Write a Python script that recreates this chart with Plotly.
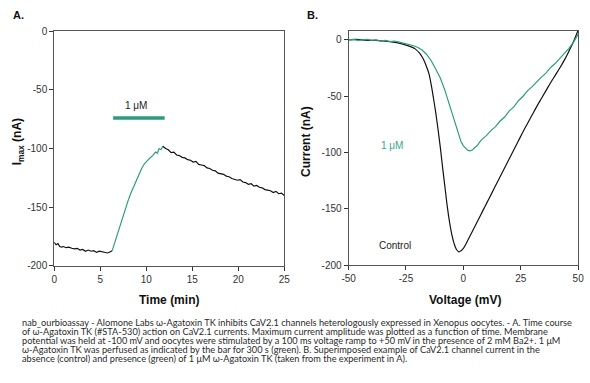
import plotly.graph_objects as go

# ---------------- Panel A data: Imax vs time ----------------
t_pre = [0, 0.2, 0.4, 0.6, 0.8, 1.0, 1.3, 1.6, 1.9, 2.2, 2.5, 2.8, 3.1, 3.4, 3.7, 4.0,
         4.3, 4.6, 4.9, 5.2, 5.5, 5.8, 6.1, 6.3]
i_pre = [-180, -182, -181, -183.5, -184, -183.5, -184.5, -184, -185, -185.5, -185, -186.5,
         -186, -187.5, -186.5, -187.5, -187, -188.5, -187.5, -188, -188.5, -189, -188, -187]

t_toxin = [6.3, 6.5, 6.8, 7.1, 7.4, 7.7, 8.0, 8.3, 8.6, 8.9, 9.2, 9.5, 9.8, 10.1, 10.4,
           10.7, 11.0, 11.2, 11.4, 11.6, 11.8]
i_toxin = [-187, -182, -174, -166, -159, -152, -145, -138.5, -133, -127, -121.5, -117, -113,
           -110, -108, -106, -103, -104, -100, -101, -98]

t_wash = [11.8, 12.1, 12.4, 12.7, 13.0, 13.3, 13.6, 13.9, 14.2, 14.5, 14.8, 15.1, 15.4, 15.7,
          16.0, 16.3, 16.6, 16.9, 17.2, 17.5, 17.8, 18.1, 18.4, 18.7, 19.0, 19.3, 19.6, 19.9,
          20.2, 20.5, 20.8, 21.1, 21.4, 21.7, 22.0, 22.3, 22.6, 22.9, 23.2, 23.5, 23.8, 24.1,
          24.4, 24.7, 25.0]
i_wash = [-98, -100, -101, -103.5, -103, -105.5, -106, -107.5, -108, -109.5, -110, -111.5,
          -111, -113.5, -114, -114.5, -116.5, -117, -118.5, -119, -121, -121.5, -122, -123.5,
          -124, -125.5, -126.5, -127, -126.5, -128.5, -129, -130.5, -130, -132, -131.5, -133,
          -133.5, -135, -135.5, -136, -137.5, -136.5, -138.5, -138, -140]

bar_t = [6.4, 12.0]
bar_i = [-74, -74]

a_xticks = [0, 5, 10, 15, 20, 25]
a_xticktext = ["0", "5", "10", "15", "20", "25"]
a_yticks = [0, -50, -100, -150, -200]
a_yticktext = ["0", "-50", "-100", "-150", "-200"]

# ---------------- Panel B data: I-V curves ----------------
v_ctrl = [-50, -47, -44, -41, -38, -35, -32, -29, -26, -23, -21, -19, -18, -17, -16, -15, -14,
          -13, -12, -11, -10, -9, -8, -7, -6, -5, -4, -3, -2, -1, 0, 1, 2, 3, 4, 5, 6, 7, 8,
          9, 10, 12, 14, 16, 18, 20, 22, 24, 26, 28, 30, 32, 34, 36, 38, 40, 42, 44, 46, 48, 50]
i_ctrl = [0, 0.5, 0, -0.5, -0.5, -1, -1.5, -2.5, -4, -6, -8, -12, -15, -19, -24, -30, -40,
          -52, -65, -80, -96, -114, -131, -148, -162, -173, -181, -186, -188, -187, -185,
          -181.5, -177.5, -173.5, -169.5, -165.5, -161.5, -157.5, -153.5, -149.5, -145.5,
          -137.5, -129.5, -121.5, -113.5, -105.5, -97.5, -89.5, -81.5, -74, -66.5, -59, -52,
          -45, -38, -31.5, -25, -18, -10, -1.5, 8.5]

v_tox = [-50, -48, -46, -44, -42, -40, -38, -36, -34, -32, -30, -28, -26, -24, -22, -20, -18,
         -16, -14, -12, -10, -8, -6, -4, -2, -1, 0, 1, 2, 3, 4, 5, 6, 7, 8, 10, 12, 14, 16,
         18, 20, 22, 24, 26, 28, 30, 32, 34, 36, 38, 40, 42, 44, 46, 48, 50]
i_tox = [0, 0.5, -0.5, 0, 0.5, -0.5, 0, -1, -0.5, -1.5, -1, -2, -3, -3.5, -5, -6.5, -9, -13,
         -18.5, -26, -34, -45, -58, -73, -86, -90.5, -94, -96.5, -98, -98.5, -97.5, -95.5,
         -94, -91, -88.5, -85, -80.5, -77, -72, -68.5, -63, -59.5, -54, -50, -45, -41.5,
         -37, -33, -29.5, -24.5, -21, -16, -12, -7.5, -2, 5]

b_xticks = [-50, -25, 0, 25, 50]
b_xticktext = ["-50", "-25", "0", "25", "50"]
b_yticks = [0, -50, -100, -150, -200]
b_yticktext = ["0", "-50", "-100", "-150", "-200"]

caption_lines = [
    "nab_ourbioassay - Alomone Labs ω-Agatoxin TK inhibits CaV2.1 channels heterologously expressed in Xenopus oocytes. - A. Time course",
    "of ω-Agatoxin TK (#STA-530) action on CaV2.1 currents. Maximum current amplitude was plotted as a function of time. Membrane",
    "potential was held at -100 mV and oocytes were stimulated by a 100 ms voltage ramp to +50 mV in the presence of 2 mM Ba2+. 1 μM",
    "ω-Agatoxin TK was perfused as indicated by the bar for 300 s (green). B. Superimposed example of CaV2.1 channel current in the",
    "absence (control) and presence (green) of 1 μM ω-Agatoxin TK (taken from the experiment in A).",
]

BLACK = "#111111"
GREEN = "#2a9d7e"
GREEN_TXT = "#3aa88a"
W, H = 590, 383
FONT = "Liberation Sans, Arial"

fig = go.Figure()
line_a = dict(color=BLACK, width=1.2)
fig.add_trace(go.Scatter(x=t_pre, y=i_pre, mode="lines", line=line_a, xaxis="x", yaxis="y"))
fig.add_trace(go.Scatter(x=t_toxin, y=i_toxin, mode="lines", line=dict(color=GREEN, width=1.2),
                         xaxis="x", yaxis="y"))
fig.add_trace(go.Scatter(x=t_wash, y=i_wash, mode="lines", line=line_a, xaxis="x", yaxis="y"))
fig.add_trace(go.Scatter(x=bar_t, y=bar_i, mode="lines", line=dict(color=GREEN, width=3.5),
                         xaxis="x", yaxis="y"))

fig.add_trace(go.Scatter(x=v_ctrl, y=i_ctrl, mode="lines", line=dict(color=BLACK, width=1.2),
                         line_shape="spline", xaxis="x2", yaxis="y2"))
fig.add_trace(go.Scatter(x=v_tox, y=i_tox, mode="lines", line=dict(color=GREEN, width=1.2),
                         xaxis="x2", yaxis="y2"))

axis_common = dict(showline=True, mirror=True, linecolor="#555555", linewidth=1,
                   showgrid=False, zeroline=False, ticks="outside", ticklen=4,
                   tickcolor="#333333", ticklabeloverflow="allow",
                   tickfont=dict(family=FONT, size=10, color="#333333"))

fig.update_layout(
    width=W, height=H,
    margin=dict(l=0, r=0, t=0, b=0),
    paper_bgcolor="white", plot_bgcolor="white",
    showlegend=False,
    xaxis=dict(domain=[48.3 / W, 283.5 / W], range=[0, 25], tickvals=a_xticks,
               ticktext=a_xticktext, anchor="y", **axis_common),
    yaxis=dict(domain=[1 - 268.3 / H, 1 - 26 / H], range=[-200, 0], tickvals=a_yticks,
               ticktext=a_yticktext, anchor="x", **axis_common),
    xaxis2=dict(domain=[349.3 / W, 584 / W], range=[-50, 50], tickvals=b_xticks,
                ticktext=b_xticktext, anchor="y2", **axis_common),
    yaxis2=dict(domain=[1 - 267.7 / H, 1 - 25.3 / H], range=[-200, 8.3], tickvals=b_yticks,
                ticktext=b_yticktext, anchor="x2", **axis_common),
)

def px_ann(x, y, text, size=10, color="#111111", xanchor="center",
           textangle=0, family=FONT):
    fig.add_annotation(x=x / W, y=1 - y / H, xref="paper", yref="paper", text=text,
                       showarrow=False, xanchor=xanchor, yanchor="middle",
                       textangle=textangle, borderpad=0,
                       font=dict(size=size, color=color, family=family))

bold = lambda s: "<b>" + s + "</b>"
px_ann(5, 9, bold("A."), size=11, xanchor="left")
px_ann(306, 9, bold("B."), size=11, xanchor="left")
px_ann(166, 304, bold("Time (min)"), size=12)
px_ann(468, 304, bold("Voltage (mV)"), size=12)
px_ann(11, 140, bold("I<sub>max</sub> (nA)"), size=12, textangle=-90)
px_ann(305, 140, bold("Current (nA)"), size=12, textangle=-90)

# in-plot labels (data coordinates)
fig.add_annotation(x=8.9, y=-63, xref="x", yref="y", text="1 μM", showarrow=False,
                   font=dict(size=10, color="#222222", family=FONT))
fig.add_annotation(x=-31, y=-94, xref="x2", yref="y2", text="1 μM", showarrow=False,
                   font=dict(size=10, color=GREEN_TXT, family=FONT))
fig.add_annotation(x=-30, y=-182, xref="x2", yref="y2", text="Control", showarrow=False,
                   font=dict(size=10, color="#222222", family=FONT))

for k, line in enumerate(caption_lines):
    px_ann(14, 327 + 9.3 * k, line, size=9.2, color="#2a2a2a", xanchor="left",
           family="Lato, Carlito, Calibri, sans-serif")

fig.write_html("out.html", config={"displayModeBar": False},
               post_script="document.body.style.margin='0';document.body.style.overflow='hidden';")
